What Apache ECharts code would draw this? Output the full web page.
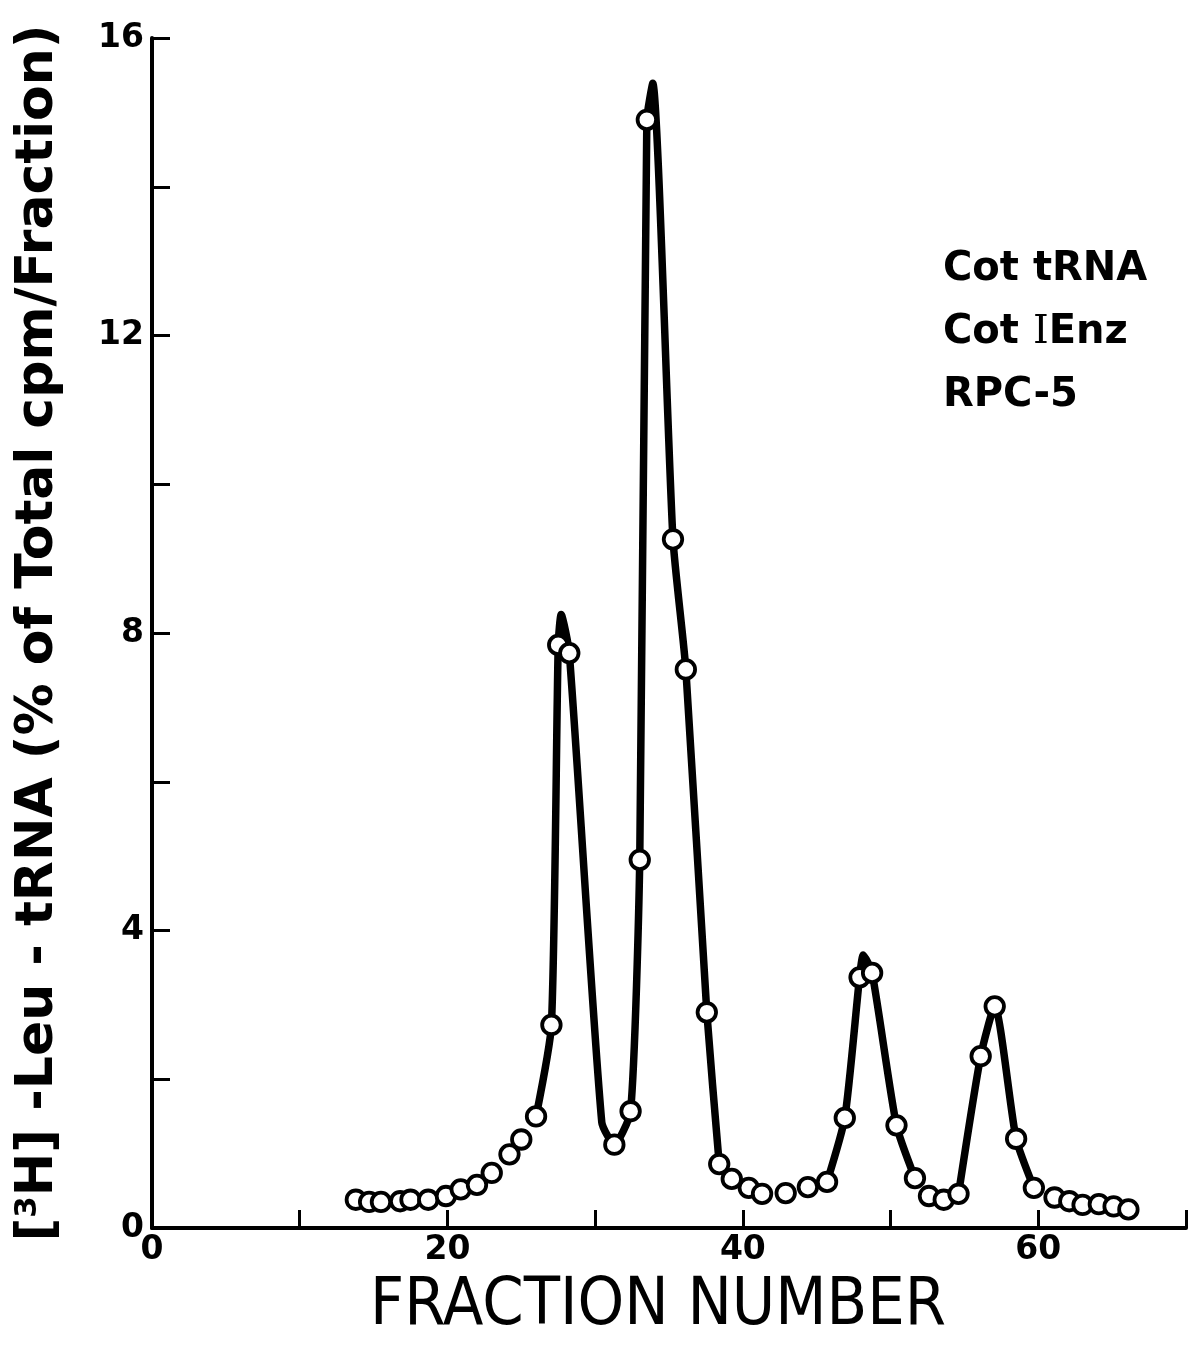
<!DOCTYPE html>
<html>
<head>
<meta charset="utf-8" />
<script src="https://cdn.jsdelivr.net/npm/echarts@6/dist/echarts.min.js"></script>
<title>Leu-tRNA RPC-5</title>
<style>body{margin:0;background:#fff;}</style>
</head>
<body>
<div id="main" style="width:1189px;height:1347px;"></div>
<script type="text/javascript">
// measured circles: fraction number and % of total cpm
var fractions = [13.8,14.7,15.5,16.8,17.5,18.7,19.9,20.9,22.0,23.0,24.2,25.0,26.0,27.04,27.5,28.25,
  31.3,32.4,33.02,33.5,35.27,36.14,37.56,38.4,39.25,40.4,41.3,42.9,44.4,45.7,46.9,47.9,48.75,
  50.4,51.65,52.6,53.6,54.6,56.1,57.05,58.5,59.7,61.1,62.1,63.0,64.1,65.1,66.1];
var percents = [0.38,0.35,0.35,0.36,0.38,0.38,0.43,0.52,0.58,0.74,0.99,1.19,1.5,2.73,7.84,7.73,
  1.12,1.57,4.95,14.9,9.26,7.51,2.9,0.86,0.66,0.54,0.46,0.47,0.55,0.62,1.48,3.37,3.43,
  1.38,0.67,0.43,0.38,0.46,2.31,2.98,1.2,0.54,0.41,0.36,0.31,0.32,0.29,0.25];

// hand drawn curve, three pieces (null = gap)
var curveX = [26.0,27.04,27.5,27.7,28.25,30.45,31.3,32.4,33.02,33.5,33.9,35.27,36.14,37.56,38.4,
  null,45.7,46.9,47.9,48.15,48.75,50.4,51.65,
  null,54.6,56.1,57.05,58.5,59.7];
var curveY = [1.5,2.73,7.84,8.25,7.73,1.42,1.12,1.57,4.95,14.9,15.39,9.26,7.51,2.9,0.86,
  null,0.62,1.48,3.37,3.67,3.43,1.38,0.67,
  null,0.46,2.31,2.98,1.2,0.54];

var xTicks = [0,20,40,60];
var yTicks = [0,4,8,12,16];
var notes = ['Cot tRNA','Cot {r|I}Enz','RPC-5'];

var pts = [], curve = [];
for (var i = 0; i < fractions.length; i++) pts.push([fractions[i], percents[i]]);
for (var j = 0; j < curveX.length; j++) {
  curve.push(curveX[j] === null ? '-' : [curveX[j], curveY[j]]);
}

var myChart = echarts.init(document.getElementById('main'));
var lblFont = {color:'#000', fontFamily:'DejaVu Sans, sans-serif', fontWeight:'bold', fontSize:33};

var option = {
  backgroundColor:'#fff',
  animation:false,
  grid:{left:152, right:0, top:38, bottom:119},
  xAxis:{
    type:'value', min:0, max:70, interval:10,
    name:'FRACTION NUMBER', nameLocation:'middle', nameGap:46,
    nameTextStyle:{color:'#000', fontSize:66, padding:[0,22,0,0], fontFamily:'DejaVu Sans Condensed, Liberation Sans Narrow, sans-serif'},
    axisLine:{lineStyle:{color:'#000', width:4}},
    axisTick:{inside:true, length:18, lineStyle:{color:'#000', width:3}},
    splitLine:{show:false},
    axisLabel:Object.assign({margin:6, formatter:function(v){return xTicks.indexOf(v) >= 0 ? v : '';}}, lblFont)
  },
  yAxis:{
    type:'value', min:0, max:16, interval:2,
    name:'[{s|3}H] -Leu - tRNA (% of Total cpm/Fraction)', nameLocation:'middle', nameGap:88, nameRotate:90,
    nameTextStyle:{color:'#000', fontSize:52, fontWeight:'bold', fontFamily:'DejaVu Sans, sans-serif',
      rich:{s:{fontSize:31, fontWeight:'bold', verticalAlign:'top', color:'#000', fontFamily:'DejaVu Sans, sans-serif', padding:[0,0,20,0]}}},
    axisLine:{lineStyle:{color:'#000', width:4}},
    axisTick:{inside:true, length:18, lineStyle:{color:'#000', width:3}},
    splitLine:{show:false},
    axisLabel:Object.assign({margin:8, formatter:function(v){return yTicks.indexOf(v) >= 0 ? v : '';}}, lblFont)
  },
  graphic:[{
    type:'text', left:943, top:238, z:10,
    style:{
      text:notes.join('\n'), fill:'#000', lineHeight:63,
      font:'bold 40px "DejaVu Sans", sans-serif',
      rich:{r:{font:'40px "DejaVu Serif", serif', fill:'#000'}}
    }
  }],
  series:[
    {
      name:'curve', type:'line', data:curve, smooth:0.2,
      connectNulls:false, showSymbol:false, symbol:'none',
      lineStyle:{color:'#000', width:7.5, cap:'round', join:'round'}, z:2
    },
    {
      name:'fractions', type:'scatter', data:pts, symbol:'circle', symbolSize:18.5,
      itemStyle:{color:'#fff', borderColor:'#000', borderWidth:3.8, opacity:1}, z:3
    }
  ]
};
myChart.setOption(option);
</script>
</body>
</html>
